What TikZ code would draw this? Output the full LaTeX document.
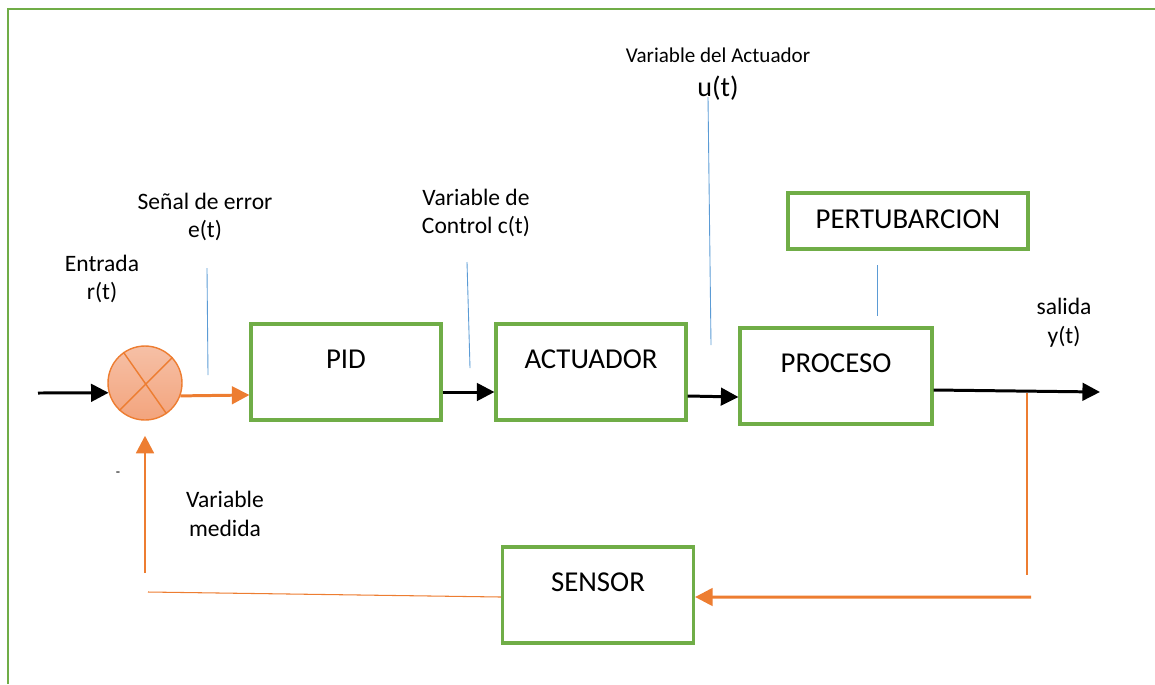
\documentclass[tikz,border=0pt]{standalone}
\usepackage{fontspec}
\setmainfont{Carlito}
\usetikzlibrary{arrows.meta,calc}
\definecolor{verde}{HTML}{70AD47}
\definecolor{naranja}{HTML}{ED7D31}
\definecolor{azul}{HTML}{5B9BD5}
\definecolor{salmonA}{HTML}{F6C0A6}
\definecolor{salmonB}{HTML}{F3A47D}
\tikzset{
    bloque/.style={draw=verde, line width=1.8pt, inner sep=0pt,
        minimum width=3.8cm, minimum height=1.92cm,
        font=\fontsize{16.4}{19}\selectfont, text height=12pt, text depth=16pt},
    etiqueta/.style={align=center, font=\fontsize{13.4}{16.4}\selectfont},
    flecha/.style={line width=1.7pt, -{Triangle[length=10pt,width=10pt]}},
    guia/.style={draw=azul, line width=0.5pt},
}
\begin{document}
\begin{tikzpicture}[x=0.02cm, y=-0.02cm]
        \useasboundingbox (0,0) rectangle (1155,684);
        \draw[verde, line width=1.6pt] (8,684) -- (8,9) -- (1155,9);

        % bloques
        \node[circle, draw=naranja, line width=0.8pt, top color=salmonA, bottom color=salmonB,
              minimum size=1.48cm, inner sep=0pt] (sum) at (145,383) {};
        \draw[naranja, line width=0.8pt] (sum.125) -- (sum.-55);
        \draw[naranja, line width=0.8pt] (sum.43) -- (sum.227);
        \node[bloque] (pid) at (346,372) {PID};
        \node[bloque] (act) at (591,372) {ACTUADOR};
        \node[bloque, minimum width=3.84cm] (proc) at (836,376) {PROCESO};
        \node[bloque, minimum width=4.8cm, minimum height=1.12cm, text depth=4pt] (pert) at (908,221) {PERTUBARCION};
        \node[bloque, minimum width=3.82cm] (sens) at (598,595) {SENSOR};

        % textos
        \node[etiqueta] (ent-txt) at (102,279) {Entrada\\r(t)};
        \node[etiqueta] (err-txt) at (205,217) {Señal de error\\e(t)};
        \node[etiqueta] (ctl-txt) at (476,213) {Variable de\\Control c(t)};
        \node[font=\fontsize{12}{14}\selectfont] (uact-txt) at (718,55) {Variable del Actuador};
        \node[font=\fontsize{16}{19}\selectfont] (u-txt) at (718,88) {u(t)};
        \node[etiqueta] (sal-txt) at (1064,323) {salida\\y(t)};
        \node[etiqueta] (med-txt) at (225,514) {Variable\\medida};
        \node[font=\fontsize{8}{9}\selectfont] (menos) at (118,474) {-};

        % lineas guia
        \coordinate (g1a) at (207,268); \coordinate (g1b) at (208,375);
        \coordinate (g2a) at (467,262); \coordinate (g2b) at (470,368);
        \coordinate (g3a) at (708,97);  \coordinate (g3b) at (711,345);
        \coordinate (g4a) at (877,265); \coordinate (g4b) at (877,316);
        \draw[guia] (g1a) -- (g1b);
        \draw[guia] (g2a) -- (g2b);
        \draw[guia] (g3a) -- (g3b);
        \draw[guia] (g4a) -- (g4b);

        % camino directo
        \coordinate (ent) at (38,393);
        \coordinate (sal) at (1100,392);
        \draw[flecha] (ent) -- (sum.195);
        \draw[flecha, naranja] (sum.-20) -- ([yshift=-0.46cm]pid.west);
        \draw[flecha] ([yshift=-0.4cm]pid.east) -- ([yshift=-0.4cm]act.west);
        \draw[flecha] ([yshift=-0.48cm]act.east) -- ([yshift=-0.42cm]proc.west);
        \draw[flecha] ([yshift=-0.28cm]proc.east) -- (sal);

        % realimentacion
        \coordinate (r1) at (1027,393);
        \coordinate (r2) at (1027,575);
        \coordinate (r3) at (1031,597);
        \coordinate (r4) at (148,592);
        \coordinate (r5) at (145,573);
        \draw[naranja, line width=0.8pt] (r1) -- (r2);
        \draw[flecha, naranja] (r3) -- ([yshift=-0.04cm]sens.east);
        \draw[naranja, line width=0.6pt] ([yshift=-0.04cm]sens.west) -- (r4);
        \draw[flecha, naranja] (r5) -- ([yshift=-0.3cm]sum.south);
\end{tikzpicture}
\end{document}
